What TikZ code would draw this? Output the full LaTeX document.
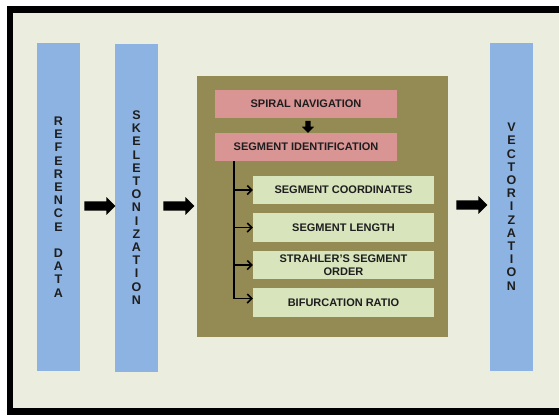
\documentclass[tikz,border=0pt]{standalone}
\usepackage{fontspec}
\setmainfont{Liberation Sans}
\usetikzlibrary{shapes.arrows,arrows.meta,calc}
\definecolor{paper}{HTML}{EBEDDE}
\definecolor{barblue}{HTML}{8DB3E2}
\definecolor{olive}{HTML}{948A54}
\definecolor{rose}{HTML}{D99594}
\definecolor{sage}{HTML}{D7E4BC}
\definecolor{ink}{HTML}{1E1E1E}
\tikzset{
  px/.style={x=1pt,y=-1pt},
  bar/.style={fill=barblue, draw=none, inner sep=0pt, minimum width=43pt, minimum height=328pt,
    text=ink, font=\bfseries\fontsize{12.5}{13.2}\selectfont, align=center},
  rosebox/.style={fill=rose, draw=none, inner sep=0pt, minimum width=182pt, minimum height=28pt,
    text=ink, font=\bfseries\fontsize{11}{13.3}\selectfont, align=center},
  sagebox/.style={fill=sage, draw=none, inner sep=0pt, minimum width=181pt, minimum height=28.5pt,
    text=ink, font=\bfseries\fontsize{11}{13.3}\selectfont, align=center},
  bigarrow/.style={single arrow, fill=black, draw=none, inner xsep=0pt, inner ysep=4.5pt,
    minimum height=31pt, single arrow head extend=4.25pt, single arrow tip angle=90},
  smallarrow/.style={single arrow, fill=black, draw=none, inner xsep=0pt, inner ysep=2.5pt,
    rotate=-90, minimum height=12pt, single arrow head extend=3.5pt,
    single arrow tip angle=90},
  feed/.style={draw=black, line width=1.5pt, -{Straight Barb[length=4.5pt,width=9pt]}},
}
\begin{document}
\begin{tikzpicture}[px]
  \useasboundingbox (0,0) rectangle (559,416);
  \clip (0,0) rectangle (559,416);
  % page background and frame
  \fill[white] (0,0) rectangle (559,416);
  \fill[paper] (10,9.5) rectangle (570,411.5);
  \draw[black, line width=6.5pt] (10,9.5) rectangle (570,411.5);

  % three vertical stages
  \node[bar] (ref) at (58.5,207) {R\\E\\F\\E\\R\\E\\N\\C\\E\\[13.2pt]D\\A\\T\\A};
  \node[bar] (skel) at (136.5,207.5) {S\\K\\E\\L\\E\\T\\O\\N\\I\\Z\\A\\T\\I\\O\\N};
  \node[bar] (vect) at (511.5,206.5) {V\\E\\C\\T\\O\\R\\I\\Z\\A\\T\\I\\O\\N};

  % central processing block
  \fill[olive] (197,76) rectangle (448,337);
  \node[rosebox] (spiral) at (306,104) {SPIRAL NAVIGATION};
  \node[rosebox] (segid) at (306,147) {SEGMENT IDENTIFICATION};
  \node[sagebox] (coord) at (343.5,190) {SEGMENT COORDINATES};
  \node[sagebox] (len) at (343.5,227.5) {SEGMENT LENGTH};
  \node[sagebox] (order) at (343.5,265) {STRAHLER’S SEGMENT\\ORDER};
  \node[sagebox] (bif) at (343.5,302.5) {BIFURCATION RATIO};

  % flow between stages
  \node[bigarrow] (a1) at (97.5,206) {};
  \node[bigarrow] (a2) at (176.5,206) {};
  \node[bigarrow] (a3) at (469.5,205) {};
  \node[smallarrow] (a4) at ($(spiral.south)!0.5!(segid.north)+(2,0)$) {};

  % branches from segment identification
  \coordinate (trunk) at (234,161);
  \coordinate (trunkend) at (234,299);
  \coordinate (bifin) at ($(bif.west)+(0,-4)$);
  \draw[black, line width=1.5pt] (trunk) -- (trunkend);
  \draw[feed] (trunk |- coord.west) -- (coord.west);
  \draw[feed] (trunk |- len.west) -- (len.west);
  \draw[feed] (trunk |- order.west) -- (order.west);
  \draw[feed] (trunk |- bifin) -- (bifin);
\end{tikzpicture}
\end{document}
